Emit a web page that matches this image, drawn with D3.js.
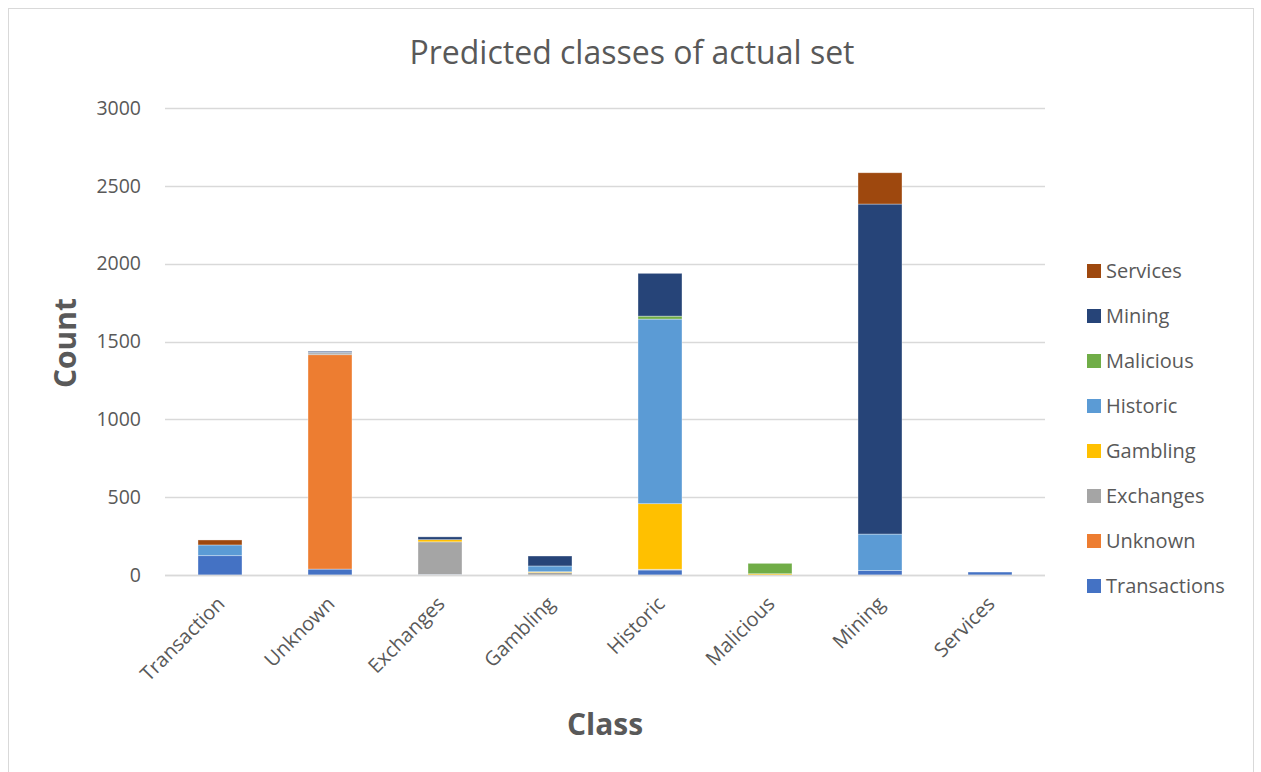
<!DOCTYPE html>
<html>
<head>
<meta charset="utf-8">
<script src="https://cdn.jsdelivr.net/npm/d3@7"></script>
<style>
  html, body { margin: 0; padding: 0; background: #fff; }
  svg { display: block; font-family: "Open Sans", "Noto Sans", sans-serif; }
</style>
</head>
<body>
<svg id="chart" width="1261" height="772"></svg>
<script>
// Actual classes along the x axis
const categories = ["Transaction", "Unknown", "Exchanges", "Gambling", "Historic", "Malicious", "Mining", "Services"];

// Predicted-class series, stacked bottom to top
const seriesNames = ["Transactions", "Unknown", "Exchanges", "Gambling", "Historic", "Malicious", "Mining", "Services"];
const transactionsVals = [124, 38, 3, 0, 32, 0, 28, 19];
const unknownVals      = [0, 1377, 0, 0, 0, 0, 0, 0];
const exchangesVals    = [0, 12, 210, 16, 5, 0, 0, 0];
const gamblingVals     = [0, 0, 14, 5, 421, 8, 0, 0];
const historicVals     = [69, 3, 0, 37, 1186, 0, 235, 0];
const maliciousVals    = [0, 0, 0, 0, 19, 67, 0, 0];
const miningVals       = [0, 7, 18, 64, 275, 0, 2120, 0];
const servicesVals     = [32, 0, 0, 0, 0, 0, 201, 0];
const seriesColors = ["#4472C4", "#ED7D31", "#A5A5A5", "#FFC000", "#5B9BD5", "#70AD47", "#264478", "#9E480E"];

const yTicks = [0, 500, 1000, 1500, 2000, 2500, 3000];

const allVals = [transactionsVals, unknownVals, exchangesVals, gamblingVals,
                 historicVals, maliciousVals, miningVals, servicesVals];
const rows = categories.map((c, i) => {
  const r = { cat: c };
  seriesNames.forEach((s, j) => r[s] = allVals[j][i]);
  return r;
});

const svg = d3.select("#chart");
const W = 1261, H = 772;
const textColor = "#595959";

// outer chart frame
svg.append("rect")
  .attr("x", 8.5).attr("y", 8.5).attr("width", 1245).attr("height", H)
  .attr("fill", "#fff").attr("stroke", "#d9d9d9").attr("stroke-width", 1);

const plot = { left: 165, right: 1045, top: 108, bottom: 575 };

const x = d3.scaleBand().domain(categories).range([plot.left, plot.right]).paddingInner(0.6).paddingOuter(0.3);
const y = d3.scaleLinear().domain([0, 3000]).range([plot.bottom, plot.top]);

// gridlines
svg.append("g").selectAll("line").data(yTicks).join("line")
  .attr("x1", plot.left).attr("x2", plot.right)
  .attr("y1", d => Math.round(y(d)) + 0.5).attr("y2", d => Math.round(y(d)) + 0.5)
  .attr("stroke", "#d9d9d9").attr("stroke-width", 1.3);

// y axis labels
const yAxis = d3.axisLeft(y).tickValues(yTicks).tickFormat(d3.format("d")).tickSize(0).tickPadding(0);
const yg = svg.append("g").attr("transform", `translate(${plot.left - 24},0)`).call(yAxis);
yg.select(".domain").remove();
yg.selectAll("text").attr("fill", textColor).style("font-size", "19.5px")
  .style("font-family", "'Open Sans', sans-serif");

// stacked bars
const stack = d3.stack().keys(seriesNames);
const layers = stack(rows);
svg.append("g").selectAll("g").data(layers).join("g")
  .attr("fill", (d, i) => seriesColors[i])
  .selectAll("rect").data(d => d.filter(p => p[1] - p[0] > 0)).join("rect")
  .attr("x", d => x(d.data.cat))
  .attr("width", x.bandwidth())
  .attr("y", d => y(d[1]))
  .attr("height", d => y(d[0]) - y(d[1]))
  .attr("stroke", "rgba(255,255,255,0.5)").attr("stroke-width", 0.7);

// x axis line (baseline)
svg.append("line")
  .attr("x1", plot.left).attr("x2", plot.right)
  .attr("y1", plot.bottom + 0.5).attr("y2", plot.bottom + 0.5)
  .attr("stroke", "#d9d9d9").attr("stroke-width", 1.3);

// x axis category labels, rotated
const xAxis = d3.axisBottom(x).tickSize(0).tickPadding(0);
const xg = svg.append("g").attr("transform", `translate(0,${plot.bottom})`).call(xAxis);
xg.select(".domain").remove();
xg.selectAll("text")
  .attr("fill", textColor).style("font-size", "20px")
  .style("font-family", "'Open Sans', sans-serif")
  .attr("text-anchor", "end")
  .attr("dy", "0")
  .attr("transform", "translate(6,30) rotate(-45)");

// title
svg.append("text").attr("x", 632).attr("y", 64).attr("text-anchor", "middle")
  .attr("fill", textColor).style("font-size", "32px")
  .text("Predicted classes of actual set");

// axis titles
svg.append("text").attr("x", 605).attr("y", 735).attr("text-anchor", "middle")
  .attr("fill", textColor).style("font-size", "30px").style("font-weight", "bold")
  .text("Class");
svg.append("text").attr("transform", "translate(76,343) rotate(-90)").attr("text-anchor", "middle")
  .attr("fill", textColor).style("font-size", "30px").style("font-weight", "bold")
  .text("Count");

// legend, top series first
const legendItems = seriesNames.map((s, i) => ({ name: s, color: seriesColors[i] })).reverse();
const lg = svg.append("g").selectAll("g").data(legendItems).join("g")
  .attr("transform", (d, i) => `translate(1087,${271 + i * 45})`);
lg.append("rect").attr("x", 0).attr("y", -7).attr("width", 14).attr("height", 14).attr("fill", d => d.color);
lg.append("text").attr("x", 19).attr("y", 0).attr("dy", "0.35em")
  .attr("fill", textColor).style("font-size", "20px").text(d => d.name);
</script>
</body>
</html>
